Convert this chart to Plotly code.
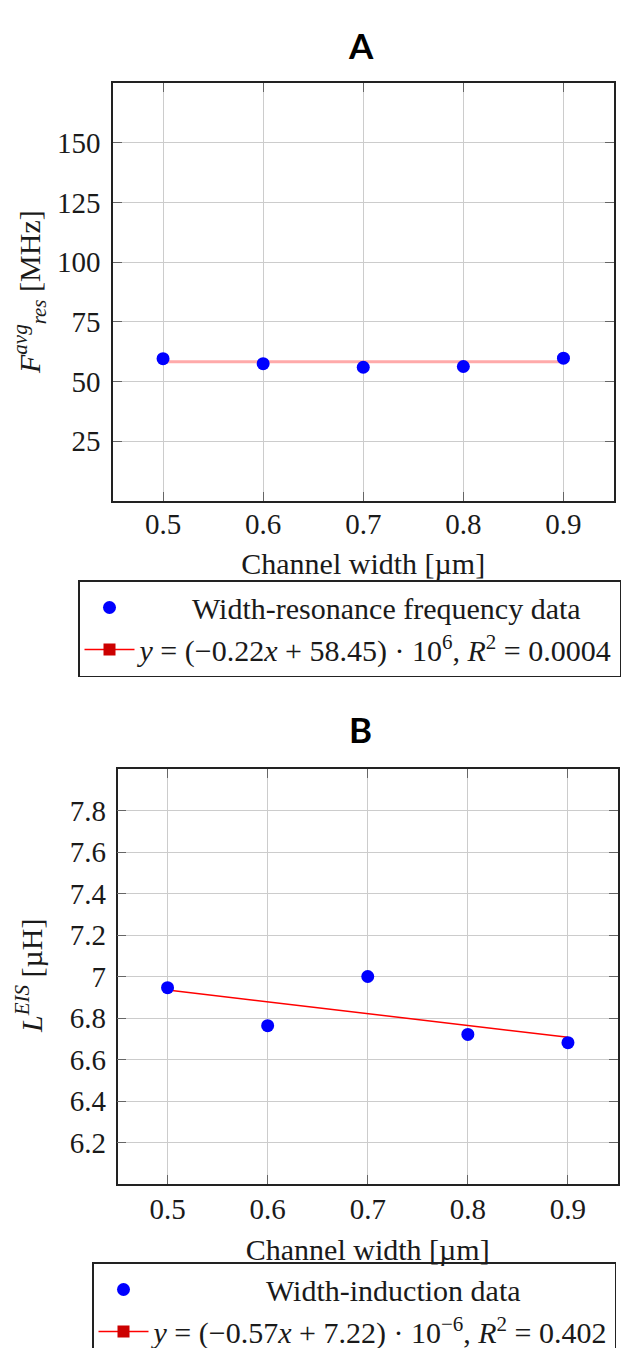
import plotly.graph_objects as go

# ---------------- data ----------------
channel_width = [0.5, 0.6, 0.7, 0.8, 0.9]
freq_mhz = [59.6, 57.5, 56.0, 56.3, 59.8]
induct_uh = [6.946, 6.763, 7.0, 6.721, 6.681]

fit_a_slope, fit_a_intercept = -0.22, 58.45
fit_b_slope, fit_b_intercept = -0.57, 7.22

x_ticks = [0.5, 0.6, 0.7, 0.8, 0.9]
x_ticktext = ["0.5", "0.6", "0.7", "0.8", "0.9"]
ya_ticks = [25, 50, 75, 100, 125, 150]
ya_ticktext = ["25", "50", "75", "100", "125", "150"]
yb_ticks = [6.2, 6.4, 6.6, 6.8, 7.0, 7.2, 7.4, 7.6, 7.8]
yb_ticktext = ["6.2", "6.4", "6.6", "6.8", "7", "7.2", "7.4", "7.6", "7.8"]

ytitle_a = "<i>F</i><sup><i>avg</i></sup><sub><i>res</i></sub> [MHz]"
ytitle_b = "<i>L</i><sup><i>EIS</i></sup> [µH]"
xtitle = "Channel width [µm]"

legend_a = ["Width-resonance frequency data",
            "<i>y</i> = (−0.22<i>x</i> + 58.45) · 10<sup>6</sup>, <i>R</i><sup>2</sup> = 0.0004"]
legend_b = ["Width-induction data",
            "<i>y</i> = (−0.57<i>x</i> + 7.22) · 10<sup>−6</sup>, <i>R</i><sup>2</sup> = 0.402"]

# ---------------- figure ----------------
W, H = 643, 1348
OFF = 8  # page body margin of the browser
SERIF = "Liberation Serif"
TXT = "#1a1a1a"

fig = go.Figure()

fit_xa = [channel_width[0], channel_width[-1]]
fit_ya = [fit_a_slope * v + fit_a_intercept for v in fit_xa]
fit_yb = [fit_b_slope * v + fit_b_intercept for v in fit_xa]

# Panel A
fig.add_trace(go.Scatter(x=fit_xa, y=fit_ya, mode="lines",
                         line=dict(color="#ffaaaa", width=3),
                         showlegend=False, xaxis="x", yaxis="y", hoverinfo="skip"))
fig.add_trace(go.Scatter(x=channel_width, y=freq_mhz, mode="markers",
                         marker=dict(color="#0000ff", size=13),
                         name="\u00a0" * 7 + legend_a[0], legend="legend",
                         xaxis="x", yaxis="y"))
fig.add_trace(go.Scatter(x=[None], y=[None], mode="lines+markers",
                         line=dict(color="#ff0000", width=1.5),
                         marker=dict(color="#cc0000", symbol="square", size=12),
                         name=legend_a[1], legend="legend", xaxis="x", yaxis="y"))

# Panel B
fig.add_trace(go.Scatter(x=fit_xa, y=fit_yb, mode="lines",
                         line=dict(color="#ff0000", width=1.5),
                         showlegend=False, xaxis="x2", yaxis="y2", hoverinfo="skip"))
fig.add_trace(go.Scatter(x=channel_width, y=induct_uh, mode="markers",
                         marker=dict(color="#0000ff", size=13),
                         name="\u00a0" * 15 + legend_b[0], legend="legend2",
                         xaxis="x2", yaxis="y2"))
fig.add_trace(go.Scatter(x=[None], y=[None], mode="lines+markers",
                         line=dict(color="#ff0000", width=1.5),
                         marker=dict(color="#cc0000", symbol="square", size=12),
                         name=legend_b[1], legend="legend2", xaxis="x2", yaxis="y2"))


def px_x(p):
    return (p - OFF) / W


def px_y(p):
    return 1 - (p - OFF) / H


axis_common = dict(showline=True, linecolor="#222", linewidth=1.5, mirror="ticks",
                   ticks="inside", ticklen=9, tickcolor="#666", tickwidth=1,
                   showgrid=True, gridcolor="#cccccc", gridwidth=1, zeroline=False,
                   tickfont=dict(family=SERIF, size=29, color=TXT))

xa = dict(axis_common, domain=[px_x(113), px_x(613.5)], range=[0.45, 0.95],
          tickvals=x_ticks, ticktext=x_ticktext, anchor="y", ticklabelstandoff=-4,
          title=dict(text=xtitle, font=dict(family=SERIF, size=30, color=TXT), standoff=14))
ya = dict(axis_common, domain=[px_y(501), px_y(83)], range=[0, 175],
          tickvals=ya_ticks, ticktext=ya_ticktext, anchor="x", ticklabelstandoff=5)
xb = dict(axis_common, domain=[px_x(117.5), px_x(618)], range=[0.45, 0.95],
          tickvals=x_ticks, ticktext=x_ticktext, anchor="y2", ticklabelstandoff=-2,
          title=dict(text=xtitle, font=dict(family=SERIF, size=30, color=TXT), standoff=15))
yb = dict(axis_common, domain=[px_y(1184), px_y(769)], range=[6.0, 8.0],
          tickvals=yb_ticks, ticktext=yb_ticktext, anchor="x2", ticklabelstandoff=4)

legend_common = dict(xanchor="left", yanchor="top", bgcolor="white",
                     bordercolor="#222", borderwidth=1.5, itemwidth=50,
                     font=dict(family=SERIF, size=30, color=TXT), tracegroupgap=0)

fig.update_layout(
    width=W, height=H,
    margin=dict(l=0, r=0, t=0, b=0, autoexpand=False),
    paper_bgcolor="white", plot_bgcolor="white",
    font=dict(family=SERIF, color=TXT),
    xaxis=xa, yaxis=ya, xaxis2=xb, yaxis2=yb,
    legend=dict(legend_common, x=px_x(78), y=px_y(580)),
    legend2=dict(legend_common, x=px_x(92), y=px_y(1262)),
    annotations=[
        dict(text="<b>A</b>", x=px_x(361), y=px_y(45), xref="paper", yref="paper",
             xanchor="center", yanchor="middle", showarrow=False,
             font=dict(family="Lato", size=35, color="black")),
        dict(text="<b>B</b>", x=px_x(360), y=px_y(729), xref="paper", yref="paper",
             xanchor="center", yanchor="middle", showarrow=False,
             font=dict(family="Lato", size=35, color="black")),
        dict(text=ytitle_a, x=px_x(29), y=px_y(292), xref="paper", yref="paper",
             xanchor="center", yanchor="middle", textangle=-90, showarrow=False,
             font=dict(family=SERIF, size=30, color=TXT)),
        dict(text=ytitle_b, x=px_x(29), y=px_y(976), xref="paper", yref="paper",
             xanchor="center", yanchor="middle", textangle=-90, showarrow=False,
             font=dict(family=SERIF, size=30, color=TXT)),
    ],
    showlegend=True,
)

fig.write_html("out.html")
